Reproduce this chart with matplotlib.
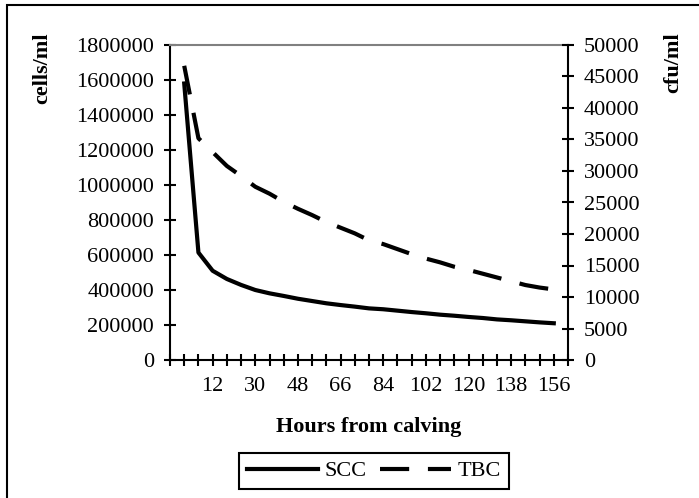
import numpy as np
import matplotlib
matplotlib.use("Agg")
import matplotlib.pyplot as plt
from matplotlib.lines import Line2D
from matplotlib.patches import Rectangle

plt.rcParams["font.family"] = ["Liberation Serif", "DejaVu Serif"]

# hours after calving (one sample every 6 h)
hours = [0, 6, 12, 18, 24, 30, 36, 42, 48, 54, 60, 66, 72, 78, 84,
         90, 96, 102, 108, 114, 120, 126, 132, 138, 144, 150, 156]

# somatic cell count, cells/ml (left axis)
scc = [1580000, 614000, 510000, 463000, 429000, 400000, 381000, 366000,
       350000, 337000, 324000, 314000, 305000, 295000, 290000, 282000,
       274000, 267000, 259000, 253000, 246000, 240000, 232000, 227000,
       221000, 215000, 210000]

# total bacterial count, cfu/ml (right axis)
tbc = [46700, 35200, 33000, 30800, 29200, 27500, 26400, 25100, 24000,
       23000, 21900, 21000, 20100, 19000, 18400, 17600, 16800, 16100,
       15500, 14800, 14300, 13700, 13100, 12500, 11900, 11500, 11200]

xtick_labels = [12, 30, 48, 66, 84, 102, 120, 138, 156]

W, H = 699, 498
fig = plt.figure(figsize=(W / 100, H / 100), dpi=100)

# plot area in pixels: x 170..568, y 45..360
ax = fig.add_axes([170 / W, 1 - 360 / H, 398 / W, 315 / H])
ax2 = ax.twinx()

fs = 16
lw_data = 3.0

ax.plot(hours, scc, color="black", lw=lw_data, solid_joinstyle="round")
ax2.plot(hours, tbc, color="black", lw=lw_data, dashes=(7, 4.5),
         dash_capstyle="butt")

ax.set_xlim(-6, 162)
ax.set_ylim(0, 1800000)
ax2.set_ylim(0, 50000)

ax.set_yticks(np.arange(0, 1800001, 200000))
ax.set_yticklabels([str(v) for v in range(0, 1800001, 200000)])
ax2.set_yticks(np.arange(0, 50001, 5000))
ax2.set_yticklabels([str(v) for v in range(0, 50001, 5000)])

# tick marks every 6 h, labels every 18 h
ax.set_xticks(np.arange(-6, 163, 6))
ax.set_xticklabels([str(h) if h in xtick_labels else "" for h in range(-6, 163, 6)])

for a in (ax, ax2):
    a.tick_params(axis="both", direction="inout", length=9, width=1.5,
                  labelsize=fs, color="black")
    for s in a.spines.values():
        s.set_linewidth(1.5)
ax.tick_params(axis="y", pad=7)
ax2.tick_params(axis="y", pad=7)
ax.tick_params(axis="x", pad=8)

ax.spines["top"].set_color("#808080")
ax2.spines["top"].set_visible(False)
ax.spines["right"].set_visible(False)
ax2.spines["left"].set_visible(False)
ax2.spines["bottom"].set_visible(False)

# axis titles
fig.text(42 / W, 1 - 32 / H, "cells/ml", rotation=90, ha="center", va="top",
         fontsize=fs, fontweight="bold")
fig.text(673 / W, 1 - 32 / H, "cfu/ml", rotation=90, ha="center", va="top",
         fontsize=fs, fontweight="bold")
fig.text(369 / W, 1 - 427 / H, "Hours from calving", ha="center", va="center",
         fontsize=fs, fontweight="bold")

handles = [Line2D([], [], color="black", lw=lw_data),
           Line2D([], [], color="black", lw=lw_data, dashes=(7, 4.5),
                  dash_capstyle="butt")]
leg = fig.legend(handles, ["SCC", "TBC"], loc="center",
                 bbox_to_anchor=(374 / W, 1 - 471 / H), ncol=2,
                 fontsize=fs, frameon=True, fancybox=False,
                 handlelength=3.2, handletextpad=0.3, columnspacing=0.6,
                 borderpad=0.35, borderaxespad=0)
leg.get_frame().set_edgecolor("black")
leg.get_frame().set_linewidth(1.5)
leg.get_frame().set_alpha(1)

# outer chart border (right and bottom edges fall outside the picture)
fig.patches.append(Rectangle((7 / W, -0.05), 1.0, 1 - 5 / H + 0.05,
                             transform=fig.transFigure, fill=False,
                             edgecolor="black", lw=1.5, clip_on=False))

fig.savefig("out.png", dpi=100)
